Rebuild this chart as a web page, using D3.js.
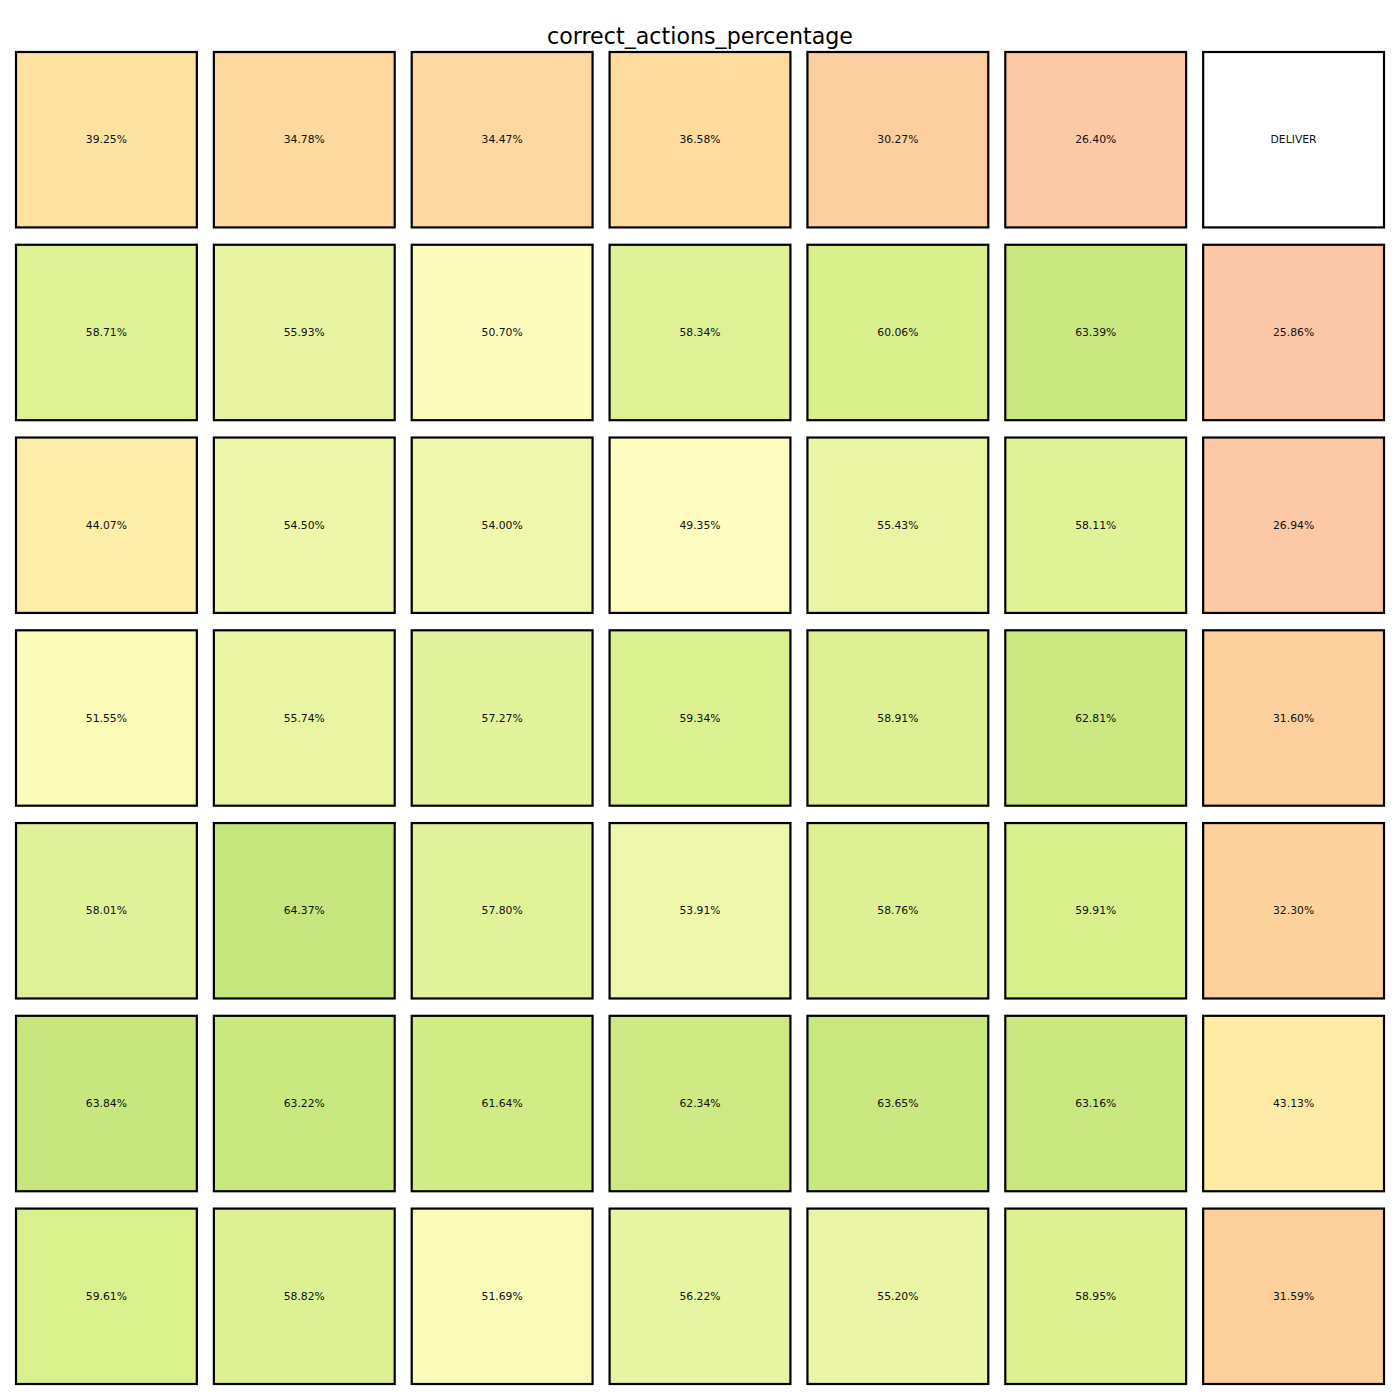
<!DOCTYPE html>
<html>
<head>
<meta charset="utf-8">
<script src="https://cdn.jsdelivr.net/npm/d3@7"></script>
<style>
  html, body { margin: 0; padding: 0; background: #fff; }
  svg { display: block; }
</style>
</head>
<body>
<svg id="chart" width="1400" height="1400"></svg>
<script>
// ---- data ----
const title = "correct_actions_percentage";
const rowIds = ["r0", "r1", "r2", "r3", "r4", "r5", "r6"];
const colIds = ["c0", "c1", "c2", "c3", "c4", "c5", "c6"];
const row0 = [39.25, 34.78, 34.47, 36.58, 30.27, 26.40, null];
const row1 = [58.71, 55.93, 50.70, 58.34, 60.06, 63.39, 25.86];
const row2 = [44.07, 54.50, 54.00, 49.35, 55.43, 58.11, 26.94];
const row3 = [51.55, 55.74, 57.27, 59.34, 58.91, 62.81, 31.60];
const row4 = [58.01, 64.37, 57.80, 53.91, 58.76, 59.91, 32.30];
const row5 = [63.84, 63.22, 61.64, 62.34, 63.65, 63.16, 43.13];
const row6 = [59.61, 58.82, 51.69, 56.22, 55.20, 58.95, 31.59];
const specialLabel = "DELIVER";

// colour stops (value -> colour)
const colorDomain = [25, 27, 30, 32, 34.5, 36.6, 39.3, 43, 44, 49.4, 50.7, 51.6, 54, 55.5, 58, 60, 62, 63.5, 64.4];
const colorRange = ["#fcc7a8", "#fcc8a5", "#fdcea0", "#fdd19d", "#fdd79f", "#fddc9e", "#fee3a0", "#feeba6", "#feeca9",
                    "#fefcc0", "#fcfcbc", "#fafbb9", "#eff7ac", "#eaf5a4", "#e0f297", "#d9ef8b", "#cfea84", "#c9e77f", "#c4e67d"];

const rows = [row0, row1, row2, row3, row4, row5, row6];
const cells = [];
rows.forEach((r, i) => r.forEach((v, j) => cells.push({ row: rowIds[i], col: colIds[j], value: v })));

// ---- drawing ----
const svg = d3.select("#chart");

const x = d3.scaleBand().domain(colIds).range([16, 1384]).paddingInner(0.086).paddingOuter(0);
const y = d3.scaleBand().domain(rowIds).range([52, 1384]).paddingInner(0.09).paddingOuter(0);
const color = d3.scaleLinear().domain(colorDomain).range(colorRange).interpolate(d3.interpolateRgb).clamp(true);

svg.append("text")
  .attr("x", 700)
  .attr("y", 44)
  .attr("text-anchor", "middle")
  .attr("font-family", "DejaVu Sans, sans-serif")
  .attr("font-size", 22.2)
  .attr("fill", "#000")
  .text(title);

const g = svg.selectAll("g.cell").data(cells).enter().append("g").attr("class", "cell");

g.append("rect")
  .attr("x", d => x(d.col))
  .attr("y", d => y(d.row))
  .attr("width", x.bandwidth())
  .attr("height", y.bandwidth())
  .attr("fill", d => d.value == null ? "#ffffff" : color(d.value))
  .attr("stroke", "#000")
  .attr("stroke-width", 2.2);

g.append("text")
  .attr("x", d => x(d.col) + x.bandwidth() / 2)
  .attr("y", d => y(d.row) + y.bandwidth() / 2)
  .attr("text-anchor", "middle")
  .attr("dominant-baseline", "central")
  .attr("font-family", "DejaVu Sans, sans-serif")
  .attr("font-size", 10.8)
  .attr("fill", "#111")
  .text(d => d.value == null ? specialLabel : d.value.toFixed(2) + "%");
</script>
</body>
</html>
